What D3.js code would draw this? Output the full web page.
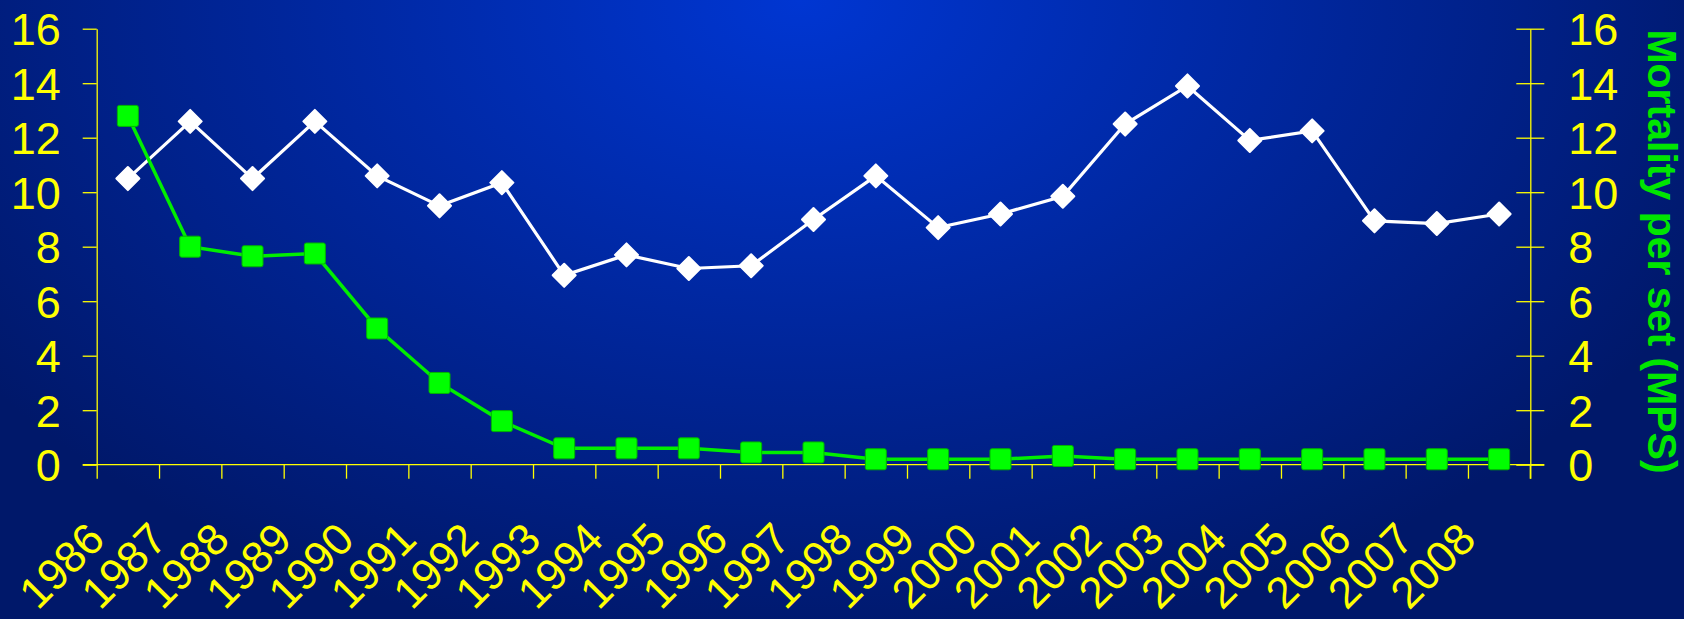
<!DOCTYPE html>
<html>
<head>
<meta charset="utf-8">
<script src="https://cdn.jsdelivr.net/npm/d3@7"></script>
<style>
  html, body { margin: 0; padding: 0; background: #001a66; }
  svg { display: block; }
</style>
</head>
<body>
<svg id="chart" width="1684" height="619"></svg>
<script>
// ---- data ----
const years = ["1986","1987","1988","1989","1990","1991","1992","1993","1994","1995","1996","1997",
               "1998","1999","2000","2001","2002","2003","2004","2005","2006","2007","2008"];
const whiteSeries = [10.5, 12.6, 10.5, 12.6, 10.6, 9.5, 10.35, 6.95, 7.7, 7.2, 7.3, 9.0,
                     10.6, 8.7, 9.2, 9.85, 12.5, 13.9, 11.9, 12.25, 8.95, 8.85, 9.2];
const mpsSeries = [12.8, 8.0, 7.65, 7.75, 5.0, 3.0, 1.6, 0.6, 0.6, 0.6, 0.45, 0.45,
                   0.2, 0.2, 0.2, 0.32, 0.2, 0.2, 0.2, 0.2, 0.2, 0.2, 0.2];
const yTicks = [0, 2, 4, 6, 8, 10, 12, 14, 16];
const rightTitle = "Mortality per set (MPS)";

// ---- layout ----
const W = 1684, H = 619;
const plotLeft = 96.7, plotRight = 1530.3, plotTop = 28.7, plotBottom = 464.7;
const FONT = "'Liberation Sans', Arial, sans-serif";
const YELLOW = "#ffff00";

const svg = d3.select("#chart");

// background gradient
const defs = svg.append("defs");
const grad = defs.append("radialGradient")
  .attr("id", "bg").attr("gradientUnits", "userSpaceOnUse")
  .attr("cx", 800).attr("cy", 0).attr("r", 1)
  .attr("gradientTransform", "translate(800,0) scale(1000,660) translate(-800,0)");
grad.append("stop").attr("offset", 0).attr("stop-color", "#0036d2");
grad.append("stop").attr("offset", 0.55).attr("stop-color", "#002598");
grad.append("stop").attr("offset", 1).attr("stop-color", "#00186a");
svg.append("rect").attr("width", W).attr("height", H).attr("fill", "url(#bg)");

// scales
const x = d3.scaleBand().domain(years).range([plotLeft, plotRight]).padding(0);
const xIdx = d3.scaleLinear().domain([0, years.length]).range([plotLeft, plotRight]);
const yL = d3.scaleLinear().domain([0, 16]).range([plotBottom, plotTop]);
const yR = d3.scaleLinear().domain([0, 16]).range([plotBottom, plotTop]);
const cx = d => x(d) + x.bandwidth() / 2;

// bottom axis (ticks at category boundaries)
const gx = svg.append("g").attr("transform", `translate(0,${plotBottom})`)
  .call(d3.axisBottom(xIdx).tickValues(d3.range(years.length + 1)).tickFormat("").tickSize(14).tickSizeOuter(0));
gx.select(".domain").remove();
gx.selectAll(".tick line").attr("stroke", YELLOW).attr("stroke-width", 1.3);
gx.append("line").attr("x1", plotLeft - 14).attr("x2", plotRight + 14).attr("y1", 0).attr("y2", 0)
  .attr("stroke", YELLOW).attr("stroke-width", 1.3);

// left axis
const gl = svg.append("g").attr("transform", `translate(${plotLeft},0)`)
  .call(d3.axisLeft(yL).tickValues(yTicks).tickSize(14).tickSizeOuter(0).tickPadding(22));
gl.select(".domain").attr("stroke", YELLOW).attr("stroke-width", 1.3);
gl.selectAll(".tick line").attr("stroke", YELLOW).attr("stroke-width", 1.3);
gl.selectAll(".tick text").attr("fill", YELLOW).attr("font-family", FONT).attr("font-size", 45)
  .attr("dy", "0.36em");

// right axis
const gr = svg.append("g").attr("transform", `translate(${plotRight},0)`)
  .call(d3.axisRight(yR).tickValues(yTicks).tickSize(14).tickSizeOuter(0).tickPadding(24));
gr.select(".domain").attr("stroke", YELLOW).attr("stroke-width", 1.3);
gr.selectAll(".tick line").attr("x1", -14).attr("stroke", YELLOW).attr("stroke-width", 1.3);
gr.selectAll(".tick text").attr("fill", YELLOW).attr("font-family", FONT).attr("font-size", 45)
  .attr("dy", "0.36em");
svg.append("line").attr("x1", plotRight).attr("x2", plotRight).attr("y1", plotBottom).attr("y2", plotBottom + 14)
  .attr("stroke", YELLOW).attr("stroke-width", 1.3);

// x labels
svg.append("g").selectAll("text").data(years).join("text")
  .attr("transform", d => `translate(${cx(d) - 21},${plotBottom + 77}) rotate(-45)`)
  .attr("text-anchor", "end")
  .attr("fill", YELLOW).attr("font-family", FONT).attr("font-size", 44)
  .text(d => d);

// right title
svg.append("text")
  .attr("transform", `translate(1648,251.5) rotate(90)`)
  .attr("text-anchor", "middle")
  .attr("fill", "#00e600").attr("font-family", FONT).attr("font-weight", "bold").attr("font-size", 41)
  .text(rightTitle);

// white series
const whiteData = years.map((d, i) => ({ year: d, v: whiteSeries[i] }));
svg.append("path").datum(whiteData)
  .attr("fill", "none").attr("stroke", "#ffffff").attr("stroke-width", 3.2)
  .attr("d", d3.line().x(d => cx(d.year)).y(d => yL(d.v)));
svg.append("g").selectAll("path").data(whiteData).join("path")
  .attr("transform", d => `translate(${cx(d.year)},${yL(d.v)}) rotate(45)`)
  .attr("d", d3.symbol(d3.symbolSquare, 265)())
  .attr("fill", "#ffffff").attr("stroke", "#ffffff").attr("stroke-width", 2).attr("stroke-linejoin", "round");

// green series (right axis)
const mpsData = years.map((d, i) => ({ year: d, v: mpsSeries[i] }));
svg.append("path").datum(mpsData)
  .attr("fill", "none").attr("stroke", "#00ee00").attr("stroke-width", 3.5)
  .attr("d", d3.line().x(d => cx(d.year)).y(d => yR(d.v)));
svg.append("g").selectAll("rect").data(mpsData).join("rect")
  .attr("x", d => cx(d.year) - 10.5).attr("y", d => yR(d.v) - 10.5)
  .attr("width", 21).attr("height", 21).attr("rx", 2)
  .attr("fill", "#00ff00").attr("stroke", "#00b400").attr("stroke-width", 1);
</script>
</body>
</html>
